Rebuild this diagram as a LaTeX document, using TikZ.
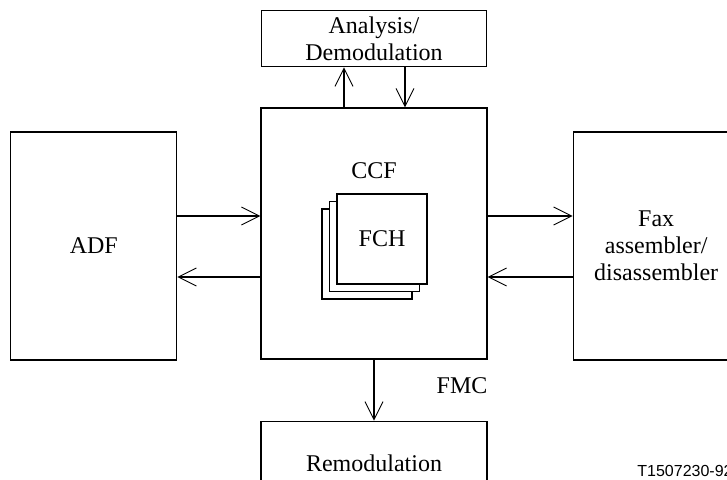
\documentclass[tikz,border=0pt]{standalone}
\usepackage{fontspec}
\setmainfont{Liberation Serif}
\newfontfamily\figfont{Liberation Sans}
\usepackage{tikz}
\usetikzlibrary{arrows.meta, positioning}

\tikzset{
  unit/.style={draw, line width=0.6pt, align=center, inner sep=0pt,
    font=\fontsize{12}{13.5}\selectfont},
  page/.style={draw, line width=0.6pt, fill=white, minimum size=45pt, inner sep=0pt,
    font=\fontsize{12}{13.5}\selectfont},
  flow/.style={line width=0.7pt, -{Straight Barb[length=9pt, width=9pt, line width=0.45pt]}},
  tag/.style={font=\fontsize{12}{13.5}\selectfont}
}

\begin{document}
\begin{tikzpicture}[x=0.5pt, y=-0.5pt]
  % Frame of the figure
  \useasboundingbox (0,0) rectangle (727,479);
  \clip (0,0) rectangle (727,479);

  % Central coding function and the blocks around it
  \node[unit, minimum width=113pt, minimum height=125.5pt] (ccf) at (374,233.5) {};
  \node[unit, minimum width=112.5pt, minimum height=28pt, above=20pt of ccf] (ana) {Analysis/\\Demodulation};
  \node[unit, minimum width=113pt, minimum height=42pt, below=30.5pt of ccf] (remod) {Remodulation};
  \node[unit, minimum width=83pt, minimum height=114pt, left=41.5pt of ccf, yshift=-6.25pt] (adf) {ADF};
  \node[unit, minimum width=83pt, minimum height=114pt, right=42.5pt of ccf, yshift=-6.25pt] (fax) {Fax\\assembler/\\disassembler};

  % Stack of FCH pages
  \node[page] (fchc) at (367,254) {};
  \node[page] (fchb) at ([shift={(7.5,-7.5)}]fchc) {};
  \node[page] (fch) at ([shift={(7.5,-7.5)}]fchb) {FCH};
  \node[tag] (ccflbl) at (374,171) {CCF};
  \node[tag] (fmc) at (462,386) {FMC};

  % Connections
  \draw[flow] ([xshift=-15pt]ccf.north) -- ([xshift=-15pt]ccf.north |- ana.south);
  \draw[flow] ([xshift=15.5pt]ana.south) -- ([xshift=15.5pt]ana.south |- ccf.north);
  \draw[flow] ([yshift=15pt]adf.east) -- ([yshift=15pt]adf.east -| ccf.west);
  \draw[flow] ([yshift=-15.5pt]adf.east -| ccf.west) -- ([yshift=-15.5pt]adf.east);
  \draw[flow] ([yshift=15pt]fax.west -| ccf.east) -- ([yshift=15pt]fax.west);
  \draw[flow] ([yshift=-15.5pt]fax.west) -- ([yshift=-15.5pt]fax.west -| ccf.east);
  \draw[flow] (ccf.south) -- (remod.north);

  % Figure number
  \node[anchor=west, inner sep=0pt, font=\figfont\fontsize{8}{9}\selectfont] (figno) at (637,471) {T1507230-92};
\end{tikzpicture}
\end{document}
